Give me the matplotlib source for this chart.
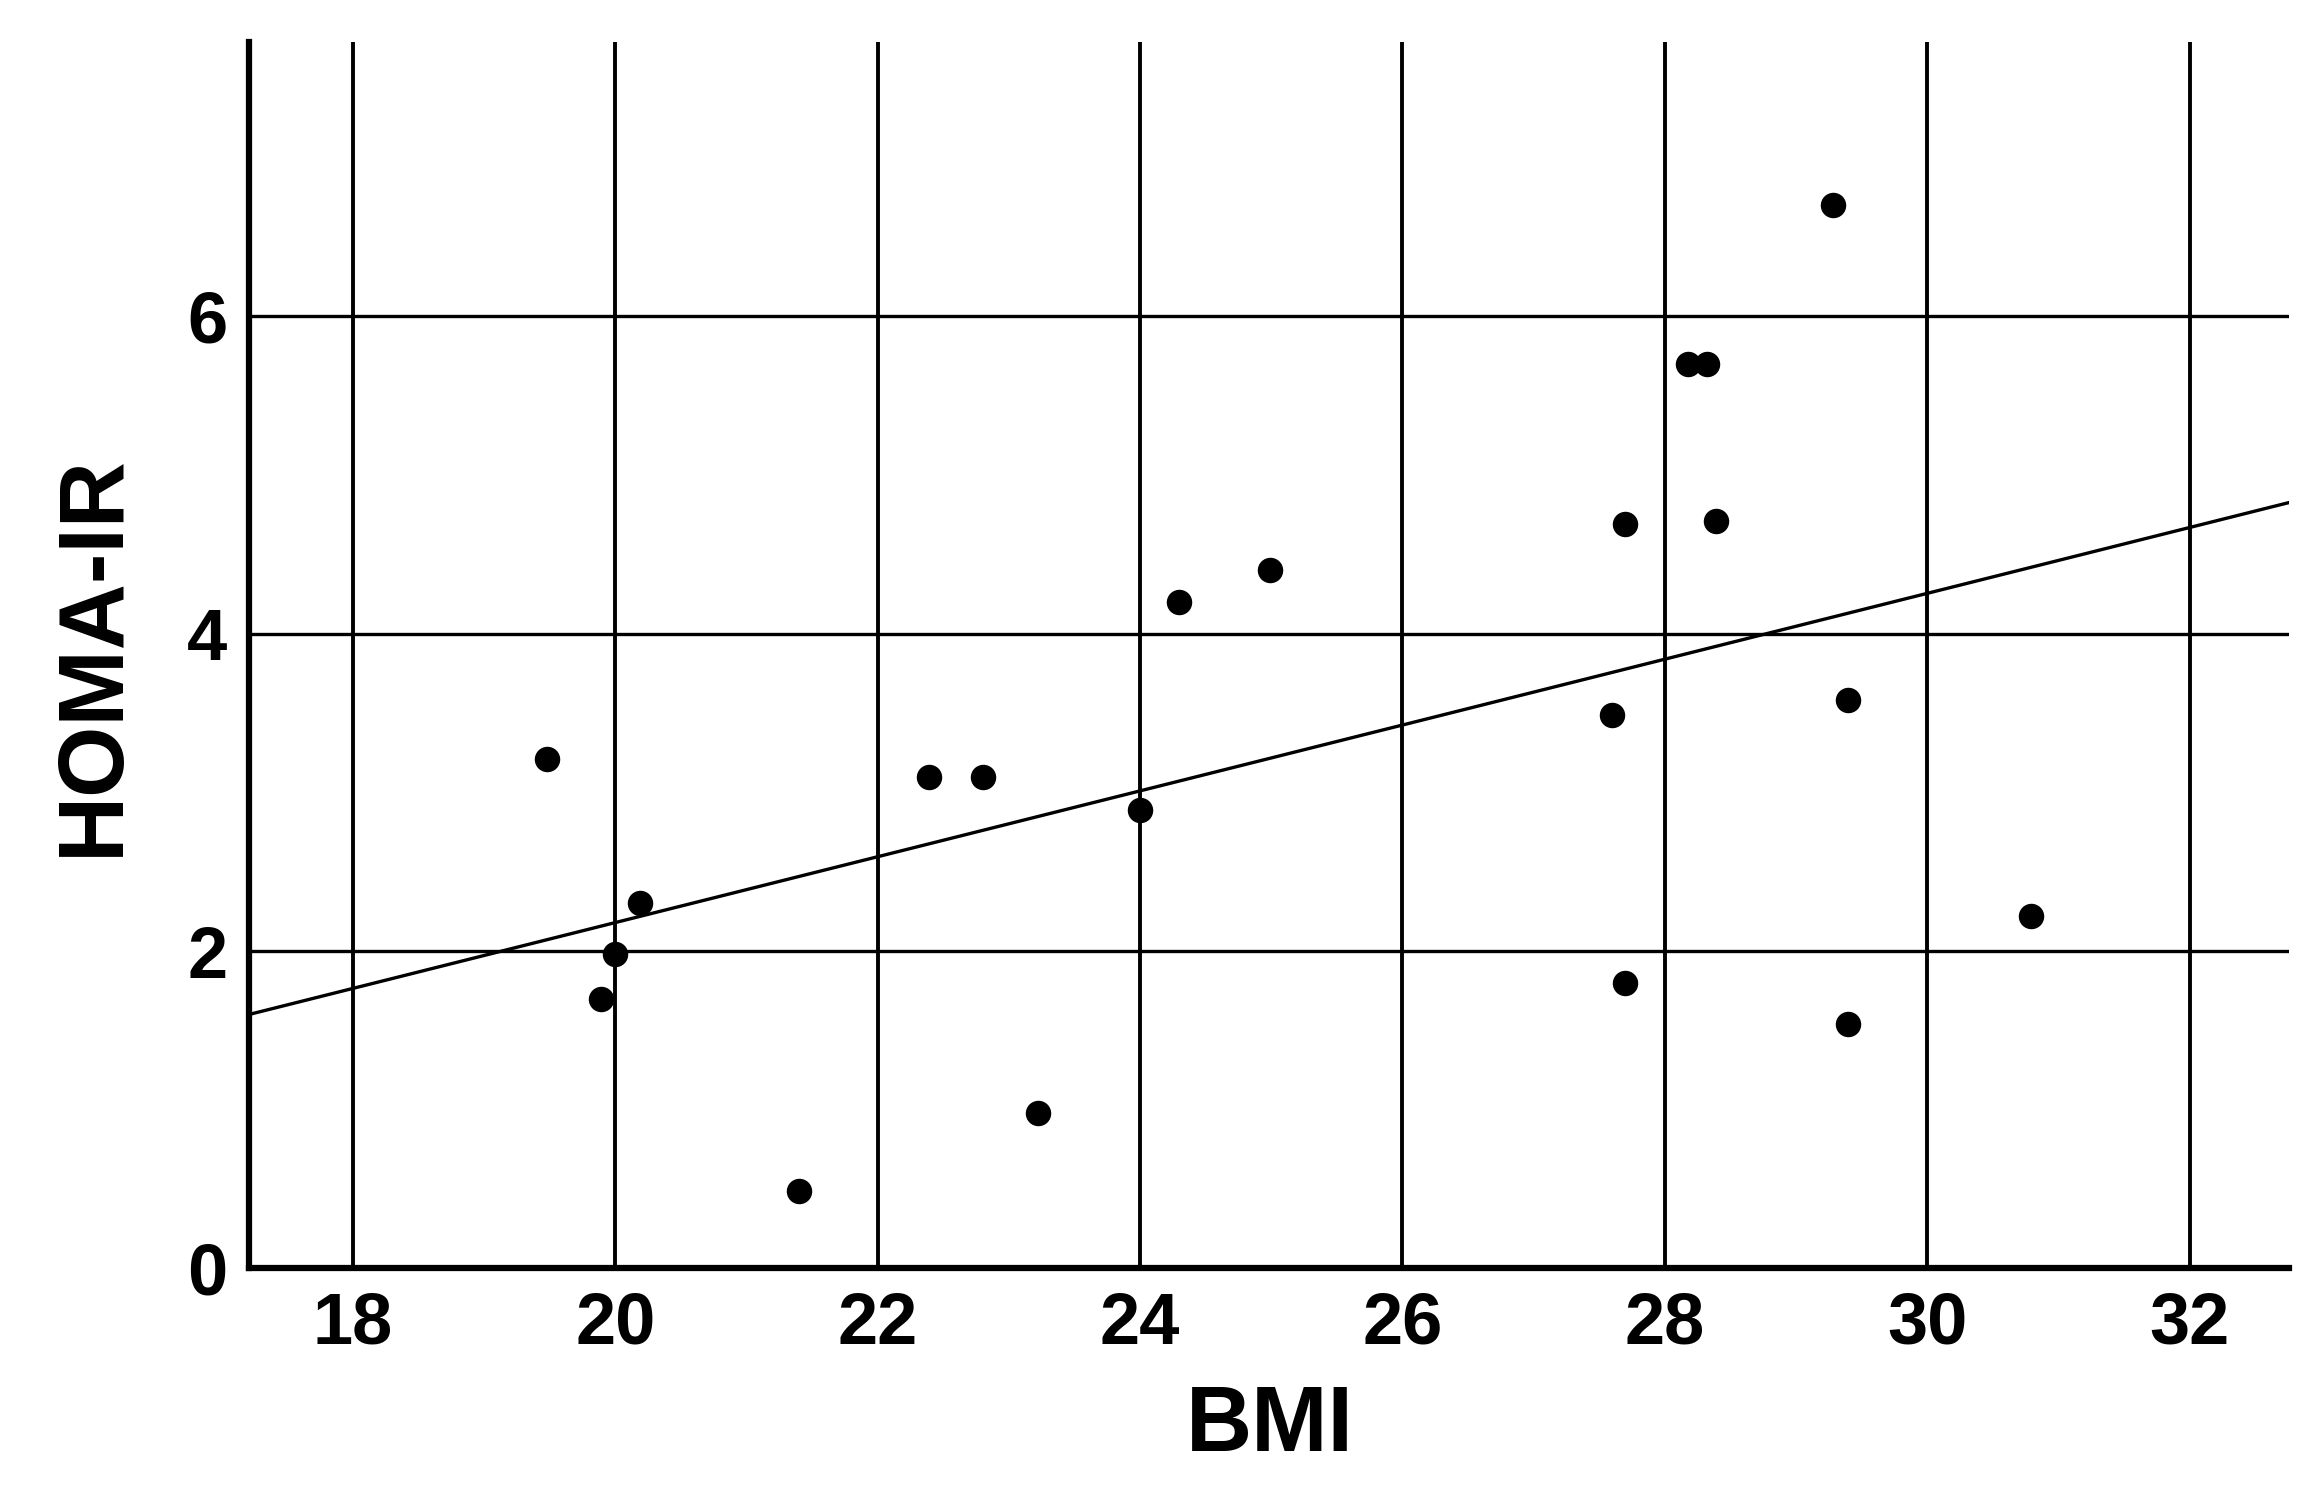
import matplotlib as mpl
mpl.use('Agg')
import matplotlib.pyplot as plt
import numpy as np

bmi = [19.48, 20.0, 19.89, 20.19, 21.40, 22.39, 22.80, 23.22, 24.0, 24.30, 24.99,
       27.60, 27.70, 27.70, 28.18, 28.32, 28.39, 29.28, 29.40, 29.40, 30.79]
homa = [3.21, 1.98, 1.70, 2.30, 0.49, 3.10, 3.10, 0.98, 2.89, 4.20, 4.40,
        3.49, 4.69, 1.80, 5.70, 5.70, 4.71, 6.70, 3.58, 1.54, 2.22]
xticks = [18, 20, 22, 24, 26, 28, 30, 32]
yticks = [0, 2, 4, 6]

plt.rcParams['font.family'] = ['Liberation Sans', 'DejaVu Sans']
fig = plt.figure(figsize=(23.1, 15.01), dpi=100)
ax = fig.add_axes([0.108, 0.155, 0.883, 0.817])
xmin, xmax = 17.21, 32.76
ax.set_xlim(xmin, xmax)
ax.set_ylim(0, 7.73)

for x in xticks:
    ax.axvline(x, color='black', lw=2.8, zorder=1)
for y in yticks[1:]:
    ax.axhline(y, color='black', lw=2.4, zorder=1)

ax.scatter(bmi, homa, s=300, color='black', zorder=3)

slope, icpt = np.polyfit(bmi, homa, 1)
xs = np.array([xmin, xmax])
ax.plot(xs, slope * xs + icpt, color='black', lw=2.4, zorder=2)

for s in ['top', 'right']:
    ax.spines[s].set_visible(False)
ax.spines['left'].set_linewidth(4.5)
ax.spines['bottom'].set_linewidth(4.5)
ax.set_xticks(xticks)
ax.set_yticks(yticks)
ax.tick_params(length=0, labelsize=52, pad=16)
for lbl in ax.get_xticklabels() + ax.get_yticklabels():
    lbl.set_fontweight('bold')
ax.set_xlabel('BMI', fontsize=66, fontweight='bold', labelpad=18)
ax.set_ylabel('HOMA-IR', fontsize=66, fontweight='bold', labelpad=36)

fig.savefig('out.png', dpi=100)
